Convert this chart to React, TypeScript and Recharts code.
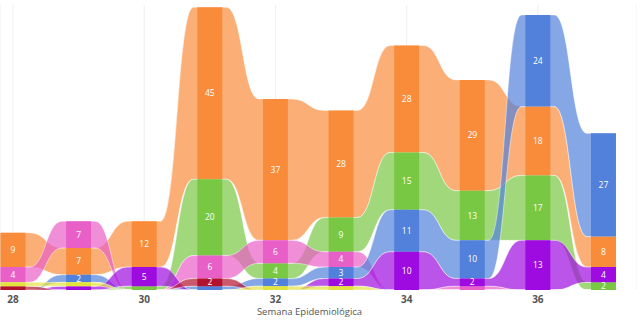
import { ComposedChart, Area, Scatter, XAxis, YAxis, CartesianGrid, Label } from 'recharts'

const weeks = [28, 29, 30, 31, 32, 33, 34, 35, 36, 37]
const weekTicks = [28, 30, 32, 34, 36]

const orange = [9, 7, 12, 45, 37, 28, 28, 29, 18, 8]
const pink = [4, 7, 0, 6, 6, 4, 0, 1, 0, 0]
const green = [0, 0, 1, 20, 4, 9, 15, 13, 17, 2]
const blue = [0, 2, 0, 1, 2, 3, 11, 10, 24, 27]
const purple = [0, 1, 5, 0, 0, 2, 10, 2, 13, 4]
const red = [1, 0, 0, 2, 0, 0, 0, 0, 0, 0]
const yellow = [1, 1, 0, 0, 1, 1, 0, 0, 0, 0]

// tie-break order when two series have the same value in a week
const rankOrder = ['pink', 'orange', 'green', 'blue', 'yellow', 'purple', 'red']
const drawOrder = ['orange', 'green', 'pink', 'blue', 'purple', 'red', 'yellow']

const values: Record<string, number[]> = { orange, pink, green, blue, purple, red, yellow }

const colors: Record<string, string> = {
  orange: '#F98C3B',
  pink: '#E95FC8',
  green: '#79C843',
  blue: '#5181DB',
  purple: '#9E0BE0',
  red: '#B3122E',
  yellow: '#E3E33F',
}

const BAR_HALF = 0.19
const RIBBON_HALF = 0.25

function buildChart() {
  const stacks = weeks.map((_, i) => {
    const items = rankOrder.map((name, p) => ({ name, p, v: values[name][i] }))
    items.sort((a, b) => b.v - a.v || a.p - b.p)
    let top = items.reduce((s, it) => s + it.v, 0)
    const pos: Record<string, number[]> = {}
    items.forEach((it) => {
      pos[it.name] = [top - it.v, top]
      top -= it.v
    })
    return pos
  })

  const rows: any[] = []
  const labels: any[] = []
  const last = weeks.length - 1
  weeks.forEach((w, i) => {
    const offsets = [
      i === 0 ? -BAR_HALF - 0.001 : -RIBBON_HALF,
      -BAR_HALF,
      BAR_HALF,
      i === last ? BAR_HALF + 0.001 : RIBBON_HALF,
    ]
    offsets.forEach((o, k) => {
      const row: any = { x: w + o }
      rankOrder.forEach((name) => {
        row[name + 'R'] = stacks[i][name]
        row[name + 'B'] = (k === 1 || k === 2) && values[name][i] > 0 ? stacks[i][name] : null
      })
      rows.push(row)
    })
    rankOrder.forEach((name) => {
      const v = values[name][i]
      if (v >= 2) labels.push({ x: w, y: (stacks[i][name][0] + stacks[i][name][1]) / 2, v })
    })
  })
  return { rows, labels }
}

const { rows, labels } = buildChart()

const AxisTick = ({ x, y, payload }: any) => (
  <text x={x} y={y} dy={11} textAnchor="middle" fill="#555" fontSize={10} fontWeight="bold" fontFamily="'Open Sans', sans-serif">
    {payload.value}
  </text>
)

const ValueLabel = ({ cx, cy, payload }: any) => (
  <text x={cx} y={cy} dy={3} textAnchor="middle" fill="#fff" fontSize={8.5} fontFamily="'Open Sans', sans-serif">
    {payload.v}
  </text>
)

export default function App() {
  return (
    <div style={{ position: 'absolute', left: 0, top: 0, width: 637, height: 321, background: '#fff' }}>
      <ComposedChart width={637} height={321} data={rows} margin={{ top: 5, right: 0, bottom: 0, left: 0 }}>
        <CartesianGrid vertical horizontal={false} stroke="#eeeeee" />
        <XAxis
          type="number"
          dataKey="x"
          domain={[27.802, 37.511]}
          allowDataOverflow
          ticks={weekTicks}
          tick={<AxisTick />}
          tickLine={false}
          axisLine={false}
          tickSize={0}
          height={31}
        >
          <Label value="Semana Epidemiológica" position="insideBottom" offset={6} dx={-9} fill="#555" fontSize={9.5} fontFamily="'Open Sans', sans-serif" />
        </XAxis>
        <YAxis hide domain={[0, 74.6]} />
        {drawOrder.map((name) => (
          <Area
            key={name + 'R'}
            dataKey={name + 'R'}
            type="bumpX"
            fill={colors[name]}
            fillOpacity={0.7}
            stroke="#ffffff"
            strokeWidth={0.8}
            strokeOpacity={0.6}
            dot={false}
            activeDot={false}
            isAnimationActive={false}
          />
        ))}
        {drawOrder.map((name) => (
          <Area
            key={name + 'B'}
            dataKey={name + 'B'}
            type="linear"
            fill={colors[name]}
            fillOpacity={1}
            stroke="none"
            dot={false}
            activeDot={false}
            isAnimationActive={false}
          />
        ))}
        <Scatter data={labels} dataKey="y" shape={<ValueLabel />} isAnimationActive={false} />
      </ComposedChart>
    </div>
  )
}
